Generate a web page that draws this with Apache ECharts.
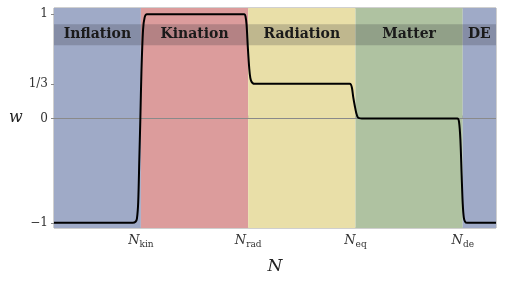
<!DOCTYPE html>
<html><head><meta charset="utf-8">
<script src="https://cdn.jsdelivr.net/npm/echarts@6/dist/echarts.min.js"></script>
<style>html,body{margin:0;padding:0;background:#fff}#c{width:507px;height:285px}</style>
</head><body><div id="c"></div>
<script>
// Equation of state w vs e-folds N (Nkin=1, Nrad=2, Neq=3, Nde=4)
const curveN = [0.19, 0.925, 0.95, 0.963, 0.975, 0.985, 0.995, 1.005, 1.02, 1.035, 1.056,
  1.965, 1.975, 1.985, 1.997, 2.01, 2.02, 2.03, 2.045, 2.06,
  2.945, 2.958, 2.968, 2.98, 2.994, 3.008, 3.02, 3.035, 3.06,
  3.95, 3.965, 3.978, 3.99, 4.0, 4.01, 4.022, 4.04, 4.31];
const curveW = [-1, -1, -0.99, -0.96, -0.8, -0.4, 0.0, 0.45, 0.85, 0.97, 1,
  1, 0.98, 0.9, 0.68, 0.48, 0.39, 0.355, 0.337, 1/3,
  1/3, 0.325, 0.29, 0.2, 0.12, 0.05, 0.015, 0.004, 0,
  0, -0.03, -0.2, -0.55, -0.82, -0.95, -0.99, -1, -1];
const phaseNames = ['Inflation', 'Kination', 'Radiation', 'Matter', 'DE'];
const phaseBounds = [0.19, 1, 2, 3, 4, 4.31];
const phaseColors = ['#9faac7', '#dc9c9c', '#e9dfa8', '#afc2a1', '#9faac7'];
const yTickValues = [-1, 0, 1/3, 1];
const yTickLabels = ['\u22121', '0', '1/3', '1'];
const xTickValues = [1, 2, 3, 4];
const xTickSubs = ['kin', 'rad', 'eq', 'de'];

const serif = '"DejaVu Serif", "Liberation Serif", serif';
const chart = echarts.init(document.getElementById('c'));
const bands = phaseNames.map((n, i) => [
  {xAxis: phaseBounds[i], yAxis: -1.05, itemStyle: {color: phaseColors[i]}},
  {xAxis: phaseBounds[i + 1], yAxis: 1.06}
]);
const strips = phaseNames.map((n, i) => [
  {name: n, xAxis: phaseBounds[i], yAxis: 0.703},
  {xAxis: phaseBounds[i + 1], yAxis: 0.904}
]);
chart.setOption({
  animation: false,
  grid: {left: 54, right: 11, top: 8, bottom: 57, show: true, borderColor: '#a0a0a0', borderWidth: 1, backgroundColor: 'transparent'},
  xAxis: {
    type: 'value', min: 0.19, max: 4.31,
    name: 'N', nameLocation: 'middle', nameGap: 30,
    nameTextStyle: {fontFamily: serif, fontStyle: 'italic', fontSize: 17, color: '#222'},
    axisLine: {show: false},
    splitLine: {show: false},
    axisTick: {show: true, customValues: xTickValues, length: 3, inside: true, lineStyle: {color: '#888'}},
    axisLabel: {
      customValues: xTickValues, margin: 5,
      formatter: v => '{n|N}{s|' + xTickSubs[xTickValues.indexOf(v)] + '}',
      rich: {
        n: {fontFamily: serif, fontStyle: 'italic', fontSize: 13, color: '#333'},
        s: {fontFamily: serif, fontSize: 9, color: '#333', padding: [7, 0, 0, 0]}
      }
    }
  },
  yAxis: {
    type: 'value', min: -1.05, max: 1.06,
    name: 'w', nameLocation: 'middle', nameGap: 30, nameRotate: 0,
    nameTextStyle: {fontFamily: serif, fontStyle: 'italic', fontSize: 16, color: '#222'},
    axisLine: {show: false},
    splitLine: {show: false},
    axisTick: {show: true, customValues: yTickValues, length: 3, lineStyle: {color: '#888'}},
    axisLabel: {
      customValues: yTickValues, margin: 6,
      formatter: v => yTickLabels[yTickValues.indexOf(v)],
      fontFamily: serif, fontSize: 12, color: '#333'
    }
  },
  series: [
    {
      type: 'line', data: [], z: 1, silent: true,
      markArea: {silent: true, data: bands, itemStyle: {opacity: 1}}
    },
    {
      type: 'line', data: [], z: 2, silent: true,
      markArea: {
        silent: true, data: strips,
        itemStyle: {color: 'rgba(40,40,50,0.22)'},
        label: {show: true, position: 'inside', fontFamily: serif, fontWeight: 'bold', fontSize: 14, color: '#1a1a1a'}
      },
      markLine: {
        silent: true, symbol: 'none', label: {show: false},
        lineStyle: {color: '#8a8a8a', width: 1, type: 'solid'},
        data: [{yAxis: 0}]
      }
    },
    {
      type: 'line', z: 5, smooth: 0.3, showSymbol: false, silent: true,
      lineStyle: {color: '#000', width: 2},
      data: curveN.map((n, i) => [n, curveW[i]])
    }
  ]
});
</script></body></html>
